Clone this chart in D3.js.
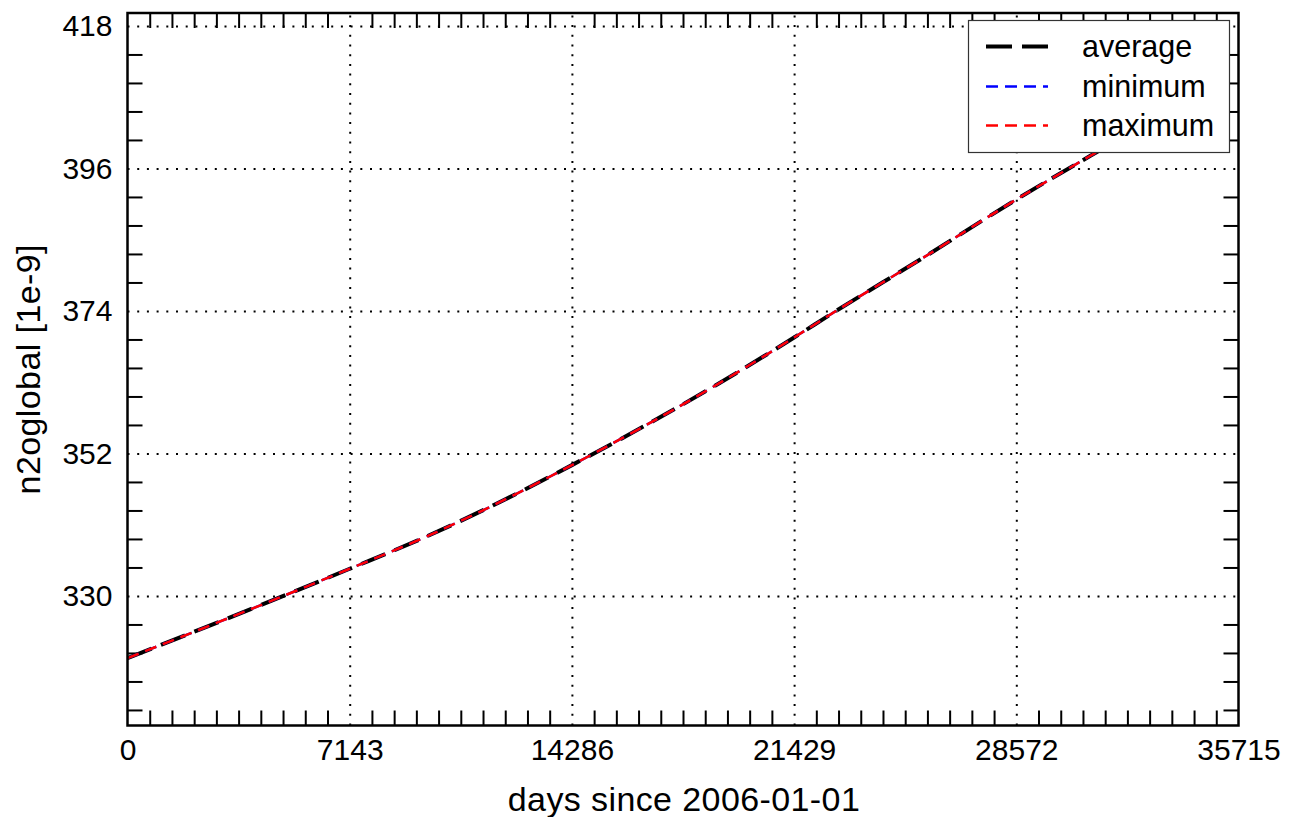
<!DOCTYPE html>
<html>
<head>
<meta charset="utf-8">
<script src="https://cdn.jsdelivr.net/npm/d3@7"></script>
<style>
  html, body { margin: 0; padding: 0; background: #fff; }
  svg { display: block; font-family: "Liberation Sans", Arial, Helvetica, sans-serif; }
</style>
</head>
<body>
<svg id="chart" width="1295" height="817"></svg>
<script>
// ---- data ----
const days    = [0, 5013, 7143, 9621, 11761, 14286, 18830, 21429, 22677, 25472, 28572, 31151, 33500];
const average = [320.4, 330.0, 334.2, 339.2, 344.0, 350.2, 362.3, 369.9, 373.7, 381.9, 391.2, 398.5, 405.0];
const minimum = [320.4, 330.0, 334.2, 339.2, 344.0, 350.2, 362.3, 369.9, 373.7, 381.9, 391.2, 398.5, 405.0];
const maximum = [320.4, 330.0, 334.2, 339.2, 344.0, 350.2, 362.3, 369.9, 373.7, 381.9, 391.2, 398.5, 405.0];
const xTickValues = [0, 7143, 14286, 21429, 28572, 35715];
const yTickValues = [330, 352, 374, 396, 418];
const seriesNames = ["average", "minimum", "maximum"];
const xTitle = "days since 2006-01-01";
const yTitle = "n2oglobal [1e-9]";

// ---- layout ----
const L = 127.5, R = 1238.5, T = 13, B = 725.5;
const svg = d3.select("#chart");

const x = d3.scaleLinear().domain([0, 35715]).range([L, R]);
const y = d3.scaleLinear().domain([310, 420]).range([B, T]);

// minor tick values
const xMinor = d3.range(0, 51).map(i => i * 35715 / 50).filter((v, i) => i % 10 !== 0);
const yMinor = d3.range(-4, 21).map(i => 330 + i * 4.4).filter(v => v > 310 && v < 420)
  .filter(v => !yTickValues.some(t => Math.abs(t - v) < 0.01));

// grid (dotted)
const gridStyle = g => {
  g.select(".domain").remove();
  g.selectAll(".tick line").attr("stroke", "#000").attr("stroke-width", 2)
    .attr("stroke-dasharray", "2,7.7");
  g.selectAll("text").remove();
};
svg.append("g").attr("transform", `translate(0,${B})`)
  .call(d3.axisBottom(x).tickValues(xTickValues.slice(1, -1)).tickSize(-(B - T)))
  .call(gridStyle);
svg.append("g").attr("transform", `translate(${L},0)`)
  .call(d3.axisLeft(y).tickValues(yTickValues).tickSize(-(R - L)))
  .call(gridStyle);

// minor ticks inward on four sides
const tickStyle = g => {
  g.select(".domain").remove();
  g.selectAll(".tick line").attr("stroke", "#000").attr("stroke-width", 2);
  g.selectAll("text").remove();
};
const TL = 15;
svg.append("g").attr("transform", `translate(0,${B})`)
  .call(d3.axisBottom(x).tickValues(xMinor).tickSize(-TL)).call(tickStyle);
svg.append("g").attr("transform", `translate(0,${T})`)
  .call(d3.axisTop(x).tickValues(xMinor).tickSize(-TL)).call(tickStyle);
svg.append("g").attr("transform", `translate(${L},0)`)
  .call(d3.axisLeft(y).tickValues(yMinor).tickSize(-TL)).call(tickStyle);
svg.append("g").attr("transform", `translate(${R},0)`)
  .call(d3.axisRight(y).tickValues(yMinor).tickSize(-TL)).call(tickStyle);

// tick labels
const labelStyle = g => {
  g.select(".domain").remove();
  g.selectAll(".tick line").remove();
  g.selectAll("text").attr("fill", "#000").style("font-size", "30px")
    .style("font-family", "'Liberation Sans', Arial, sans-serif");
};
svg.append("g").attr("transform", `translate(0,${B})`)
  .call(d3.axisBottom(x).tickValues(xTickValues).tickSize(0).tickPadding(13).tickFormat(d3.format("d")))
  .call(labelStyle);
svg.append("g").attr("transform", `translate(${L},0)`)
  .call(d3.axisLeft(y).tickValues(yTickValues).tickSize(0).tickPadding(15).tickFormat(d3.format("d")))
  .call(labelStyle);

// clip
svg.append("defs").append("clipPath").attr("id", "plotclip")
  .append("rect").attr("x", L).attr("y", T).attr("width", R - L).attr("height", B - T);

// lines
const pts = vals => days.map((d, i) => [d, vals[i]]);
const line = d3.line().x(d => x(d[0])).y(d => y(d[1])).curve(d3.curveMonotoneX);
const styles = {
  average: { color: "#000", width: 4, dash: "26,10" },
  minimum: { color: "#0000ff", width: 2.5, dash: "12,7" },
  maximum: { color: "#ff0000", width: 2.5, dash: "12,7" }
};
const seriesData = { average, minimum, maximum };
const lines = svg.append("g").attr("clip-path", "url(#plotclip)");
seriesNames.forEach(n => {
  lines.append("path").datum(pts(seriesData[n]))
    .attr("d", line).attr("fill", "none")
    .attr("stroke", styles[n].color).attr("stroke-width", styles[n].width)
    .attr("stroke-dasharray", styles[n].dash);
});

// frame
svg.append("rect").attr("x", L).attr("y", T).attr("width", R - L).attr("height", B - T)
  .attr("fill", "none").attr("stroke", "#000").attr("stroke-width", 2.5);

// legend
const lg = svg.append("g");
lg.append("rect").attr("x", 968.5).attr("y", 20.5).attr("width", 261).attr("height", 132)
  .attr("fill", "#fff").attr("stroke", "#333").attr("stroke-width", 1.2);
const legY = [46.5, 86.5, 125.5];
seriesNames.forEach((n, i) => {
  lg.append("line").attr("x1", 986).attr("x2", 1048).attr("y1", legY[i]).attr("y2", legY[i])
    .attr("stroke", styles[n].color).attr("stroke-width", styles[n].width)
    .attr("stroke-dasharray", styles[n].dash);
  lg.append("text").attr("x", 1082).attr("y", legY[i]).attr("dy", "0.35em")
    .style("font-size", "30.5px").text(n);
});

// axis titles
svg.append("text").attr("x", (L + R) / 2 + 1).attr("y", 811).attr("text-anchor", "middle")
  .style("font-size", "34px").style("letter-spacing", "0.4px").text(xTitle);
svg.append("text").attr("transform", `translate(40,${(T + B) / 2}) rotate(-90)`)
  .attr("text-anchor", "middle")
  .style("font-size", "34px").style("letter-spacing", "0.4px").text(yTitle);
</script>
</body>
</html>
